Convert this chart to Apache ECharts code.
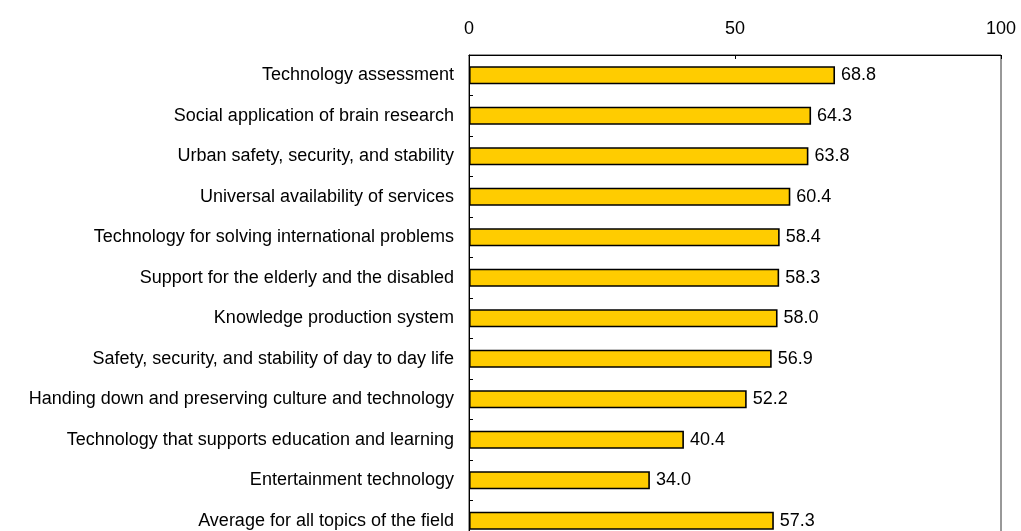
<!DOCTYPE html>
<html>
<head>
<meta charset="utf-8">
<script src="https://cdn.jsdelivr.net/npm/echarts@6/dist/echarts.min.js"></script>
<style>
  html, body { margin: 0; padding: 0; background: #fff; overflow: hidden; }
  /* taller than the window: the bottom of the plot is cut off in the original */
  #chart { width: 1021px; height: 541px; }
</style>
</head>
<body>
<div id="chart"></div>
<script>
// topics, top to bottom
const topics = [
  'Technology assessment',
  'Social application of brain research',
  'Urban safety, security, and stability',
  'Universal availability of services',
  'Technology for solving international problems',
  'Support for the elderly and the disabled',
  'Knowledge production system',
  'Safety, security, and stability of day to day life',
  'Handing down and preserving culture and technology',
  'Technology that supports education and learning',
  'Entertainment technology',
  'Average for all topics of the field'
]
const scores = [68.8, 64.3, 63.8, 60.4, 58.4, 58.3, 58.0, 56.9, 52.2, 40.4, 34.0, 57.3]

const font = 'Liberation Sans, Arial, sans-serif'

const chart = echarts.init(document.getElementById('chart'))

const option = {
  animation: false,
  grid: {
    left: 469,
    right: 20,
    top: 55,
    bottom: 0,
    show: true,
    borderColor: '#333',
    borderWidth: 1
  },
  xAxis: {
    type: 'value',
    position: 'top',
    min: 0,
    max: 100,
    interval: 50,
    axisLine: { show: true, lineStyle: { color: '#000', width: 1 } },
    axisTick: { show: true, inside: true, length: 4, lineStyle: { color: '#000' } },
    splitLine: { show: false },
    axisLabel: { color: '#000', fontSize: 18, fontFamily: font, margin: 17 }
  },
  yAxis: {
    type: 'category',
    inverse: true,
    data: topics,
    axisLine: { show: true, lineStyle: { color: '#000', width: 1 } },
    axisTick: { show: true, inside: true, length: 4, lineStyle: { color: '#000' } },
    axisLabel: { color: '#000', fontSize: 18, fontFamily: font, margin: 15 }
  },
  series: [
    {
      type: 'bar',
      data: scores,
      barWidth: 18,
      itemStyle: {
        color: '#FFCC00',
        borderColor: '#000',
        borderWidth: 1.6
      },
      label: {
        show: true,
        position: 'right',
        distance: 6,
        color: '#000',
        fontSize: 18,
        fontFamily: font,
        formatter: p => p.value.toFixed(1)
      }
    }
  ]
}

chart.setOption(option)
</script>
</body>
</html>
